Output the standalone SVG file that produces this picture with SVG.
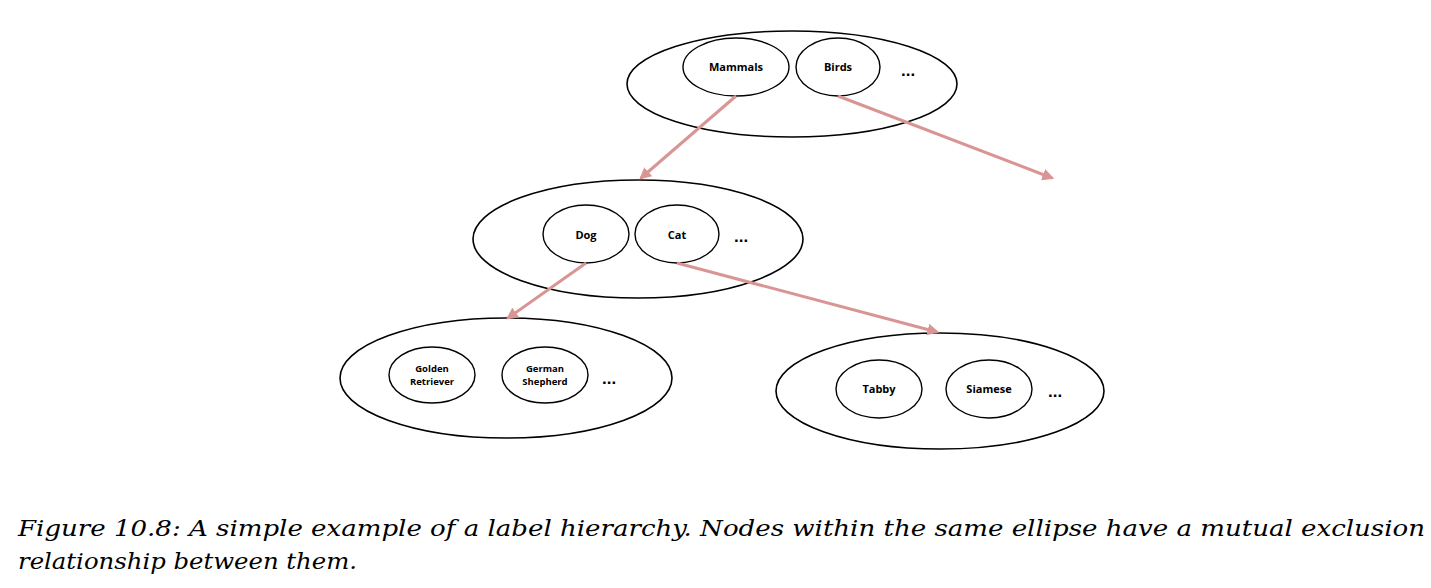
<svg xmlns="http://www.w3.org/2000/svg" width="1431" height="588" viewBox="0 0 1431 588">
<style>
.outer{fill:#fff;stroke:#000;stroke-width:1.6}
.inner{fill:#fff;stroke:#000;stroke-width:1.4}
.lbl{font-family:"Open Sans","Liberation Sans",sans-serif;font-weight:bold;font-size:11px;text-anchor:middle;fill:#000}
.sm{font-size:9.5px}
.dots{font-family:"Liberation Sans",sans-serif;font-weight:bold;font-size:17px;fill:#000}
.cap{font-family:"DejaVu Serif","Liberation Serif",serif;font-style:italic;font-size:22.5px;fill:#000}
.conn{stroke:#d99594;stroke-width:3;fill:none;marker-end:url(#ah)}
</style>
<defs>
<marker id="ah" viewBox="0 0 10 10" refX="8" refY="5" markerWidth="4" markerHeight="4" orient="auto" markerUnits="strokeWidth">
<path d="M0,0 L10,5 L0,10 z" fill="#d99594"/>
</marker>
</defs>
<rect width="1431" height="588" fill="#fff"/>
<g id="level1">
<ellipse class="outer" cx="792" cy="84" rx="165" ry="53"/>
<g id="mammals"><ellipse class="inner" cx="736" cy="67" rx="53" ry="29"/><text class="lbl" x="736" y="71">Mammals</text></g>
<g id="birds"><ellipse class="inner" cx="838" cy="67" rx="42" ry="29"/><text class="lbl" x="838" y="71">Birds</text></g>
<text class="dots" x="901" y="76">...</text>
</g>
<g id="level2">
<ellipse class="outer" cx="638" cy="239" rx="165" ry="59"/>
<g id="dog"><ellipse class="inner" cx="586" cy="234" rx="43" ry="29"/><text class="lbl" x="586" y="239">Dog</text></g>
<g id="cat"><ellipse class="inner" cx="677" cy="234" rx="42" ry="29"/><text class="lbl" x="677" y="239">Cat</text></g>
<text class="dots" x="734" y="242">...</text>
</g>
<g id="level3a">
<ellipse class="outer" cx="506" cy="378" rx="166" ry="60"/>
<g id="golden"><ellipse class="inner" cx="432" cy="375" rx="43" ry="28"/><text class="lbl sm" x="432" y="372">Golden</text><text class="lbl sm" x="432" y="385">Retriever</text></g>
<g id="german"><ellipse class="inner" cx="545" cy="375" rx="43" ry="28"/><text class="lbl sm" x="545" y="372">German</text><text class="lbl sm" x="545" y="385">Shepherd</text></g>
<text class="dots" x="602" y="384">...</text>
</g>
<g id="level3b">
<ellipse class="outer" cx="940" cy="391" rx="164" ry="58"/>
<g id="tabby"><ellipse class="inner" cx="879" cy="389" rx="43" ry="29"/><text class="lbl" x="879" y="393">Tabby</text></g>
<g id="siamese"><ellipse class="inner" cx="989" cy="389" rx="43" ry="29"/><text class="lbl" x="989" y="393">Siamese</text></g>
<text class="dots" x="1048" y="397">...</text>
</g>
<g id="connectors">
<line class="conn" x1="736" y1="96" x2="641" y2="178"/>
<line class="conn" x1="838" y1="96" x2="1052" y2="178"/>
<line class="conn" x1="586" y1="263" x2="508" y2="318"/>
<line class="conn" x1="677" y1="263" x2="937" y2="332"/>
</g>
<text class="cap" x="18" y="536" textLength="1407" lengthAdjust="spacingAndGlyphs">Figure 10.8: A simple example of a label hierarchy. Nodes within the same ellipse have a mutual exclusion</text>
<text class="cap" x="18" y="569" textLength="339" lengthAdjust="spacingAndGlyphs">relationship between them.</text>
</svg>
